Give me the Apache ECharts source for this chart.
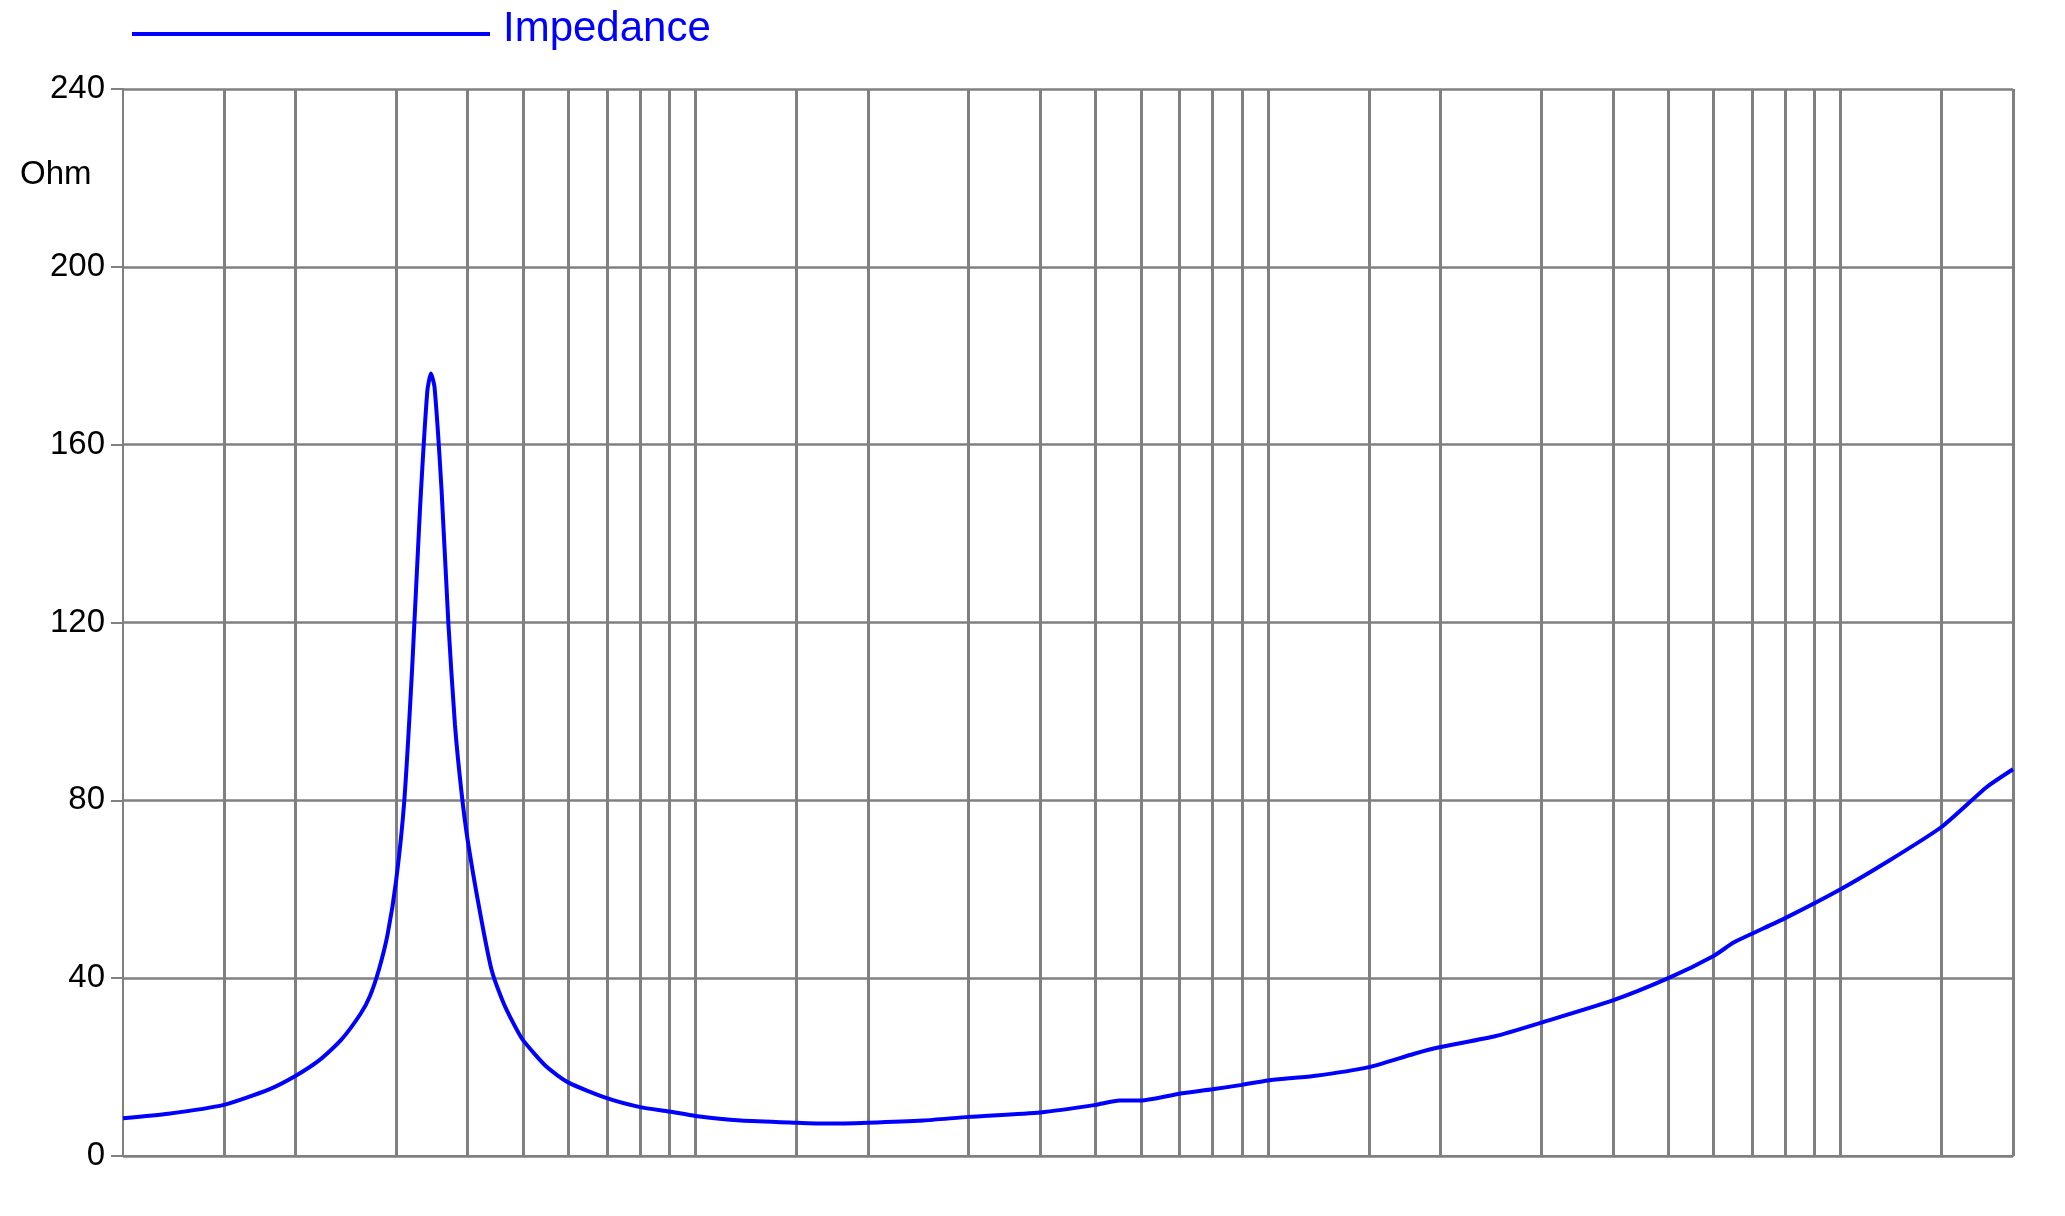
<!DOCTYPE html>
<html><head><meta charset="utf-8">
<script src="https://cdn.jsdelivr.net/npm/echarts@6/dist/echarts.min.js"></script>
<style>html,body{margin:0;padding:0;background:#fff}#c{width:2065px;height:1216px}</style>
</head><body><div id="c"></div>
<script>
const freqs = [10,12,15,18,20,22,24,26,27,28,29,30,31,32,33,34,34.5,35,36,37,38,39,40,42,44,46,48,50,55,60,70,80,90,100,120,150,170,200,250,300,400,500,550,600,700,800,900,1000,1200,1500,1800,2000,2500,3000,4000,5000,6000,6500,7000,8000,10000,12000,15000,18000,20000];
const impedance = [8.5,9.5,11.5,15,18,21.5,26,32,36,42,50,62,80,110,145,172,176,173,150,120,97,82,71,55,42,35,30,26,20,16.5,13,11,10,9,8,7.5,7.3,7.5,8,8.8,9.8,11.5,12.5,12.5,14,15,16,17,18,20,23,24.5,27,30,35,40,45,48,50,53.5,60,66,74,83,87];
const gridFreqs = [15,20,30,40,50,60,70,80,90,100,150,200,300,400,500,600,700,800,900,1000,1500,2000,3000,4000,5000,6000,7000,8000,9000,10000,15000,20000];
const tickFreqs = [10,15,20,50,100,200,500,1000,2000,5000,10000,20000];
const tickLabels = ['10','Hz','20','50','100','200','500','1K','2K','5K','10K','20K'];

const chart = echarts.init(document.getElementById('c'));
const font = 'Liberation Sans, Arial, sans-serif';
chart.setOption({
  animation: false,
  grid: {left: 123, right: 52, top: 89, bottom: 60},
  graphic: [
    {type: 'line', shape: {x1: 132, y1: 34, x2: 490, y2: 34}, style: {stroke: '#0000ff', lineWidth: 4}},
    {type: 'text', left: 503, top: 8, style: {text: 'Impedance', fill: '#0000ff', font: '42px ' + font}},
    {type: 'text', left: 20, top: 158, style: {text: 'Ohm', fill: '#000', font: '33px ' + font}}
  ],
  xAxis: {type: 'log', logBase: 10, min: 10, max: 20000,
    axisLine: {show: true, lineStyle: {color: '#808080', width: 2}},
    axisTick: {show: false}, axisLabel: {show: false},
    splitLine: {show: false}},
  yAxis: {type: 'value', min: 0, max: 240, interval: 40,
    axisLine: {show: true, lineStyle: {color: '#808080', width: 2}},
    axisTick: {show: true, length: 12, lineStyle: {color: '#808080', width: 2}},
    axisLabel: {color: '#000', fontSize: 33, fontFamily: font, margin: 18},
    splitLine: {show: true, lineStyle: {color: '#808080', width: 2.5}}},
  series: [{
    type: 'line', data: freqs.map((f, i) => [f, impedance[i]]), smooth: 0.2, symbol: 'none',
    lineStyle: {color: '#0000ff', width: 4}, z: 5,
    markLine: {silent: true, symbol: 'none', animation: false, label: {show: false},
      lineStyle: {color: '#808080', width: 3, type: 'solid'},
      data: gridFreqs.map(f => ({xAxis: f}))}
  }, {
    type: 'scatter', data: tickFreqs.map(f => [f, 0]), symbolSize: 1, itemStyle: {opacity: 0},
    clip: false, silent: true,
    label: {show: true, position: 'bottom', distance: 12, color: '#000', fontSize: 33, fontFamily: font,
      formatter: p => tickLabels[p.dataIndex]}
  }]
});
</script></body></html>
